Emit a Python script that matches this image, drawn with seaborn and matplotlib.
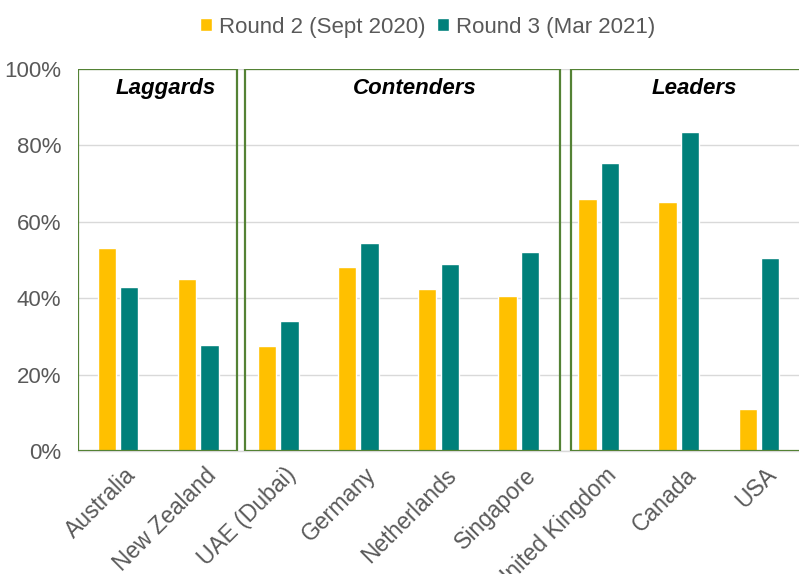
import numpy as np
import pandas as pd
import matplotlib
matplotlib.use("Agg")
import matplotlib.pyplot as plt
import matplotlib.transforms as mtransforms
from matplotlib.patches import Rectangle
from matplotlib.ticker import FuncFormatter
import seaborn as sns

# ---- data ----
countries = ["Australia", "New Zealand", "UAE (Dubai)", "Germany", "Netherlands",
             "Singapore", "United Kingdom", "Canada", "USA"]
round2 = [53.2, 45.1, 27.5, 48.2, 42.4, 40.5, 65.9, 65.1, 10.9]
round3 = [42.9, 27.8, 34.0, 54.4, 49.0, 52.1, 75.5, 83.6, 50.5]
series_names = ["Round 2 (Sept 2020)", "Round 3 (Mar 2021)"]
groups = ["Laggards", "Contenders", "Leaders"]
y_ticks = [0, 20, 40, 60, 80, 100]

# ---- layout / style ----
colors = ["#FFC000", "#00807A"]
green = "#548235"
tick_color = "#595959"
box_edges = [(-0.5, 1.48), (1.59, 5.52), (5.66, 8.8)]
group_label_x = [0.60, 3.70, 7.19]

df = pd.DataFrame({
    "country": countries * 2,
    "value": round2 + round3,
    "series": [series_names[0]] * len(countries) + [series_names[1]] * len(countries),
})

sns.set_theme(style="white")
plt.rcParams["font.family"] = ["Liberation Sans", "DejaVu Sans"]

fig = plt.figure(figsize=(7.99, 5.74), dpi=100)
ax = fig.add_axes([78 / 799, (574 - 451) / 574, 1 - 78 / 799, (451 - 69) / 574])

sns.barplot(data=df, x="country", y="value", hue="series", order=countries,
            hue_order=series_names, palette=colors, width=0.56, gap=0.18,
            saturation=1, ax=ax, zorder=3)

handles, labels = ax.get_legend_handles_labels()
ax.get_legend().remove()

ax.set_ylim(0, 100)
ax.set_xlim(-0.5, len(countries) - 0.5)
ax.set_yticks(y_ticks)
ax.yaxis.set_major_formatter(FuncFormatter(lambda v, p: f"{v:.0f}%"))
ax.grid(axis="y", color="#D9D9D9", linewidth=1.0, zorder=0)
ax.set_axisbelow(True)
for s in ["left", "right", "top"]:
    ax.spines[s].set_visible(False)
ax.spines["bottom"].set_color("#D9D9D9")
ax.spines["bottom"].set_linewidth(1.0)
ax.set_xlabel("")
ax.set_ylabel("")

ax.tick_params(axis="y", length=0, pad=12, labelsize=16, labelcolor=tick_color)
ax.tick_params(axis="x", length=0, pad=9, labelsize=16.5, labelcolor=tick_color)

ax.set_xticks(np.arange(len(countries)))
ax.set_xticklabels(countries, rotation=45, ha="right", va="top", rotation_mode="anchor")
shift = mtransforms.ScaledTranslation(0.06, 0, fig.dpi_scale_trans)
for lbl in ax.get_xticklabels():
    lbl.set_transform(lbl.get_transform() + shift)

# group boxes and labels
for (x0, x1), name, lx in zip(box_edges, groups, group_label_x):
    ax.add_patch(Rectangle((x0, 0), x1 - x0, 100, fill=False, edgecolor=green,
                           linewidth=1.6, zorder=4, clip_on=True))
    ax.text(lx, 95, name, ha="center", va="center", fontsize=16,
            fontweight="bold", fontstyle="italic", color="black", zorder=5)

fig.legend(handles, labels, loc="center", bbox_to_anchor=(0.535, 1 - 27 / 574),
           ncol=2, frameon=False, fontsize=16, labelcolor=tick_color,
           handlelength=0.55, handleheight=0.55, handletextpad=0.3,
           columnspacing=0.5, borderaxespad=0)

fig.savefig("out.png", dpi=100)
